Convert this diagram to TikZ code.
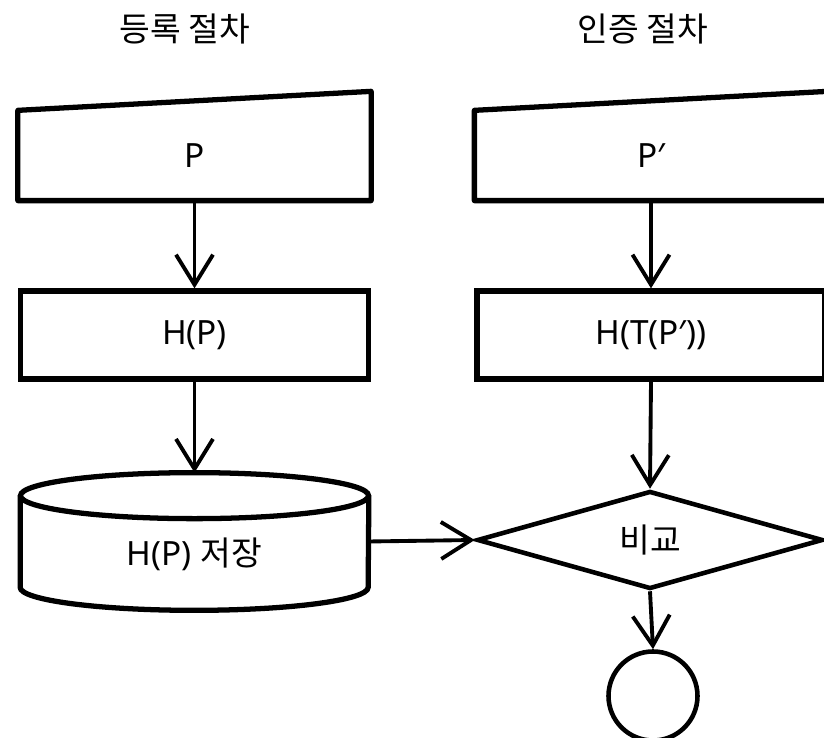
\documentclass[tikz,border=0pt]{standalone}
\usepackage{fontspec}
\setmainfont{Noto Sans}
\newfontfamily\kr{Noto Sans CJK KR}
\usetikzlibrary{arrows.meta,shapes.geometric,calc}

\begin{document}
\begin{tikzpicture}[>={Straight Barb[length=0.6cm,width=0.74cm]},
  texto/.style={font=\fontsize{19}{22}\selectfont},
  caja/.style={texto,line width=3pt,minimum width=6.96cm,inner sep=0pt},
  flecha/.style={->,line width=2.2pt}]

  % Parámetros de la ventana y de las columnas
  \def\ancho{16.48}
  \def\alto{14.76}
  \def\xreg{3.89}
  \def\xaut{13.02}
  \def\sesgo{0.38}

  \useasboundingbox (0,0) rectangle (\ancho,\alto);

  % Títulos de las dos columnas
  \node[texto,font=\kr\fontsize{19}{22}\selectfont] (tituloReg) at (3.7,14.18) {등록 절차};
  \node[texto,font=\kr\fontsize{19}{22}\selectfont] (tituloAut) at (12.86,14.18) {인증 절차};

  % Entradas manuales (borde superior inclinado)
  \node[caja,minimum height=1.7cm] (entradaReg) at (\xreg,11.65) {P};
  \node[caja,minimum height=1.7cm] (entradaAut) at (\xaut,11.65) {P′};
  \foreach \e in {entradaReg,entradaAut} {
    \draw[line width=3pt,line join=round] (\e.south west) -- (\e.south east)
      -- ($(\e.north east)+(0,\sesgo)$) -- (\e.north west) -- cycle;
  }

  % Cajas de hash
  \node[caja,draw,minimum height=1.76cm] (hashReg) at (\xreg,8.06) {H(P)};
  \node[caja,draw,minimum height=1.76cm] (hashAut) at (\xaut,8.06) {H(T(P′))};

  % Almacenamiento: cilindro dibujado a mano
  \node[minimum width=6.96cm,minimum height=2.74cm,inner sep=0pt] (almacen) at (\xreg,3.93) {};
  \draw[line width=3pt] ($(almacen.north west)+(0,-0.46)$)
    -- ($(almacen.south west)+(0,0.46)$)
    arc[start angle=180,end angle=360,x radius=3.48cm,y radius=0.46cm]
    -- ($(almacen.north east)+(0,-0.46)$);
  \draw[line width=3pt] ($(almacen.north)+(0,-0.46)$)
    ellipse[x radius=3.48cm,y radius=0.46cm];
  \node[texto] (almacenTxt) at (\xreg,3.68) {H(P) {\kr 저장}};

  % Comparación y terminal
  \node[diamond,draw,line width=2.6pt,aspect=3.53,minimum width=6.92cm,
    minimum height=1.96cm,inner sep=0pt,texto] (comparar) at (13.0,3.96) {\kr 비교};
  \node[circle,draw,line width=2.6pt,minimum size=1.78cm] (fin) at (13.06,0.84) {};

  % Flechas
  \foreach \a/\b in {entradaReg/hashReg,hashReg/almacen,entradaAut/hashAut,
                     hashAut/comparar,comparar/fin} {
    \draw[flecha] (\a.south) -- (\b.north);
  }
  \draw[flecha] (almacen.east) -- (comparar.west);

\end{tikzpicture}
\end{document}
